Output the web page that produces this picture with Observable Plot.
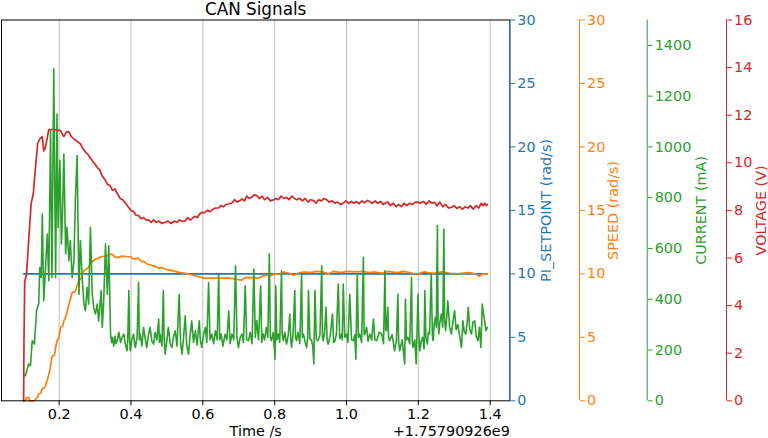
<!DOCTYPE html>
<html><head><meta charset="utf-8">
<script src="https://cdn.jsdelivr.net/npm/d3@7"></script>
<script src="https://cdn.jsdelivr.net/npm/@observablehq/plot@0.6"></script>
<style>html,body{margin:0;padding:0;background:#fff;}</style>
</head><body><div id="chart"></div>
<script>
// ---- data (time in s, relative to offset +1.75790926e9) ----
const setT = [0.101, 1.392];
const setV = [10, 10];

const spdT = [0.101,0.105,0.109,0.115,0.118,0.130,0.134,0.140,0.143,0.148,0.153,0.158,0.162,0.168,0.174,0.177,0.180,0.187,0.190,0.194,0.199,0.204,0.210,0.213,0.218,0.222,0.227,0.231,0.236,0.245,0.250,0.255,0.262,0.269,0.278,0.287,0.294,0.301,0.308,0.315,0.330,0.343,0.350,0.356,0.362,0.375,0.390,0.399,0.405,0.412,0.420,0.428,0.437,0.444,0.455,0.467,0.478,0.486,0.495,0.505,0.515,0.523,0.537,0.551,0.565,0.579,0.590,0.602,0.640,0.672,0.690,0.699,0.708,0.718,0.735,0.750,0.760,0.768,0.775,0.790,0.800,0.815,0.825,0.840,0.853,0.865,0.880,0.900,0.915,0.935,0.950,0.965,0.985,1.000,1.020,1.045,1.065,1.080,1.100,1.115,1.140,1.160,1.185,1.200,1.215,1.240,1.265,1.290,1.310,1.340,1.360,1.370,1.378,1.392];
const spdV = [0,0,0.26,0.26,0,0,0.1,0.3,0.53,0.6,0.94,1.0,1.18,1.73,2.36,2.9,3.5,3.6,4.2,4.7,5.0,5.8,5.9,6.3,6.57,7.0,7.6,8.0,8.54,8.6,9.1,9.46,9.7,10.25,10.4,10.78,11.0,11.17,11.2,11.35,11.4,11.56,11.5,11.3,11.3,11.4,11.35,11.35,11.2,11.17,11.25,11.0,10.95,10.78,10.7,10.59,10.45,10.5,10.38,10.3,10.25,10.2,10.1,10.04,9.95,9.86,9.75,9.67,9.67,9.67,9.6,9.54,9.5,9.72,9.7,9.67,9.7,9.86,9.9,9.85,10.0,9.95,10.15,10.05,9.9,10.05,10.15,10.1,10.2,10.15,10.0,10.2,10.1,10.2,10.15,10.2,10.1,10.15,10.05,10.2,10.1,10.2,10.05,10.0,10.15,10.05,10.15,10.05,10.0,10.1,10.0,9.8,10.0,10.0];

// current samples: [time s, mA]
const current = [
[0.101,99],[0.106,100],[0.115,145],[0.120,138],[0.125,237],[0.131,223],[0.137,355],[0.143,382],[0.146,525],[0.150,486],
[0.153,736],[0.157,394],[0.162,525],[0.167,657],[0.171,473],[0.176,1064],[0.180,486],[0.185,1308],[0.190,486],[0.194,1130],
[0.197,683],[0.202,946],[0.206,618],[0.209,722],[0.213,972],[0.218,579],[0.222,683],[0.227,552],[0.231,631],[0.236,486],
[0.241,552],[0.245,788],[0.250,966],[0.255,420],[0.259,631],[0.264,486],[0.269,381],[0.273,355],[0.278,447],[0.282,381],
[0.287,683],[0.292,420],[0.296,368],[0.301,342],[0.306,381],[0.310,315],[0.317,434],[0.320,289],[0.324,394],[0.329,618],
[0.334,420],[0.338,611],[0.343,263],[0.346,230],[0.348,250],[0.352,215],[0.355,255],[0.358,225],[0.362,240],[0.366,270],
[0.371,230],[0.375,250],[0.380,263],[0.384,225],[0.389,197],[0.391,250],[0.394,434],[0.396,240],[0.398,197],[0.402,240],
[0.407,263],[0.410,225],[0.412,210],[0.417,250],[0.421,466],[0.423,240],[0.426,263],[0.430,215],[0.435,289],[0.440,240],
[0.444,210],[0.448,255],[0.453,289],[0.458,235],[0.463,223],[0.467,270],[0.472,240],[0.477,322],[0.479,230],[0.481,263],
[0.486,215],[0.490,434],[0.492,250],[0.495,184],[0.500,240],[0.504,289],[0.509,225],[0.514,210],[0.518,250],[0.523,276],
[0.528,215],[0.534,420],[0.538,230],[0.542,184],[0.546,245],[0.551,335],[0.555,220],[0.560,184],[0.564,250],[0.569,315],
[0.574,230],[0.579,276],[0.584,220],[0.590,315],[0.593,240],[0.597,210],[0.602,260],[0.607,289],[0.611,230],[0.616,466],
[0.620,240],[0.625,263],[0.630,225],[0.635,276],[0.640,240],[0.644,499],[0.647,240],[0.651,263],[0.656,215],[0.662,263],
[0.667,240],[0.672,355],[0.676,225],[0.681,263],[0.686,240],[0.691,532],[0.695,250],[0.699,210],[0.704,250],[0.709,263],
[0.713,230],[0.718,453],[0.722,240],[0.727,237],[0.732,270],[0.737,225],[0.742,519],[0.746,250],[0.750,316],[0.755,240],
[0.761,453],[0.764,230],[0.768,263],[0.772,240],[0.777,289],[0.781,250],[0.785,578],[0.788,250],[0.791,237],[0.796,270],
[0.801,164],[0.803,453],[0.806,240],[0.810,263],[0.814,230],[0.819,512],[0.821,260],[0.824,237],[0.828,270],[0.833,223],
[0.838,260],[0.842,342],[0.845,240],[0.847,210],[0.851,260],[0.856,434],[0.858,250],[0.861,237],[0.865,270],[0.870,225],
[0.875,499],[0.877,250],[0.880,263],[0.885,230],[0.889,210],[0.892,250],[0.894,434],[0.898,245],[0.903,237],[0.906,215],
[0.909,145],[0.912,434],[0.916,240],[0.921,237],[0.926,260],[0.931,532],[0.933,250],[0.935,237],[0.939,270],[0.943,368],
[0.946,240],[0.949,223],[0.955,260],[0.961,342],[0.964,230],[0.968,237],[0.972,265],[0.977,460],[0.981,245],[0.986,263],
[0.988,240],[0.991,460],[0.995,250],[1.000,263],[1.004,230],[1.009,420],[1.014,240],[1.019,237],[1.023,260],[1.026,164],
[1.030,499],[1.033,250],[1.037,263],[1.042,230],[1.047,565],[1.049,260],[1.051,263],[1.056,289],[1.060,235],[1.065,263],
[1.070,240],[1.075,322],[1.079,240],[1.084,237],[1.091,270],[1.098,263],[1.103,225],[1.107,512],[1.109,280],[1.111,276],
[1.115,368],[1.117,250],[1.120,237],[1.127,260],[1.134,197],[1.139,240],[1.143,420],[1.145,235],[1.148,197],[1.155,240],
[1.162,145],[1.164,401],[1.167,240],[1.171,250],[1.176,225],[1.181,486],[1.183,240],[1.185,210],[1.190,240],[1.194,145],
[1.199,420],[1.202,230],[1.204,197],[1.208,237],[1.212,250],[1.216,204],[1.218,434],[1.221,250],[1.225,223],[1.228,270],
[1.231,263],[1.236,499],[1.239,260],[1.241,237],[1.244,300],[1.247,329],[1.250,290],[1.253,690],[1.255,310],[1.257,263],
[1.260,310],[1.264,342],[1.268,290],[1.271,677],[1.273,320],[1.276,276],[1.279,330],[1.282,394],[1.287,290],[1.292,263],
[1.297,320],[1.301,355],[1.305,280],[1.310,300],[1.315,255],[1.320,210],[1.324,315],[1.328,270],[1.332,263],[1.336,310],
[1.339,368],[1.343,280],[1.348,263],[1.352,310],[1.357,315],[1.361,255],[1.366,237],[1.370,290],[1.374,210],[1.378,381],
[1.383,329],[1.386,300],[1.388,276],[1.392,289]
];

const volT = [0.101,0.102,0.104,0.109,0.115,0.122,0.128,0.134,0.140,0.146,0.153,0.157,0.161,0.165,0.171,0.185,0.204,0.209,0.213,0.220,0.227,0.234,0.241,0.250,0.259,0.266,0.273,0.280,0.287,0.294,0.300,0.306,0.313,0.320,0.327,0.334,0.341,0.348,0.355,0.362,0.370,0.377,0.385,0.393,0.400,0.407,0.414,0.421,0.428,0.435,0.442,0.449,0.456,0.463,0.470,0.478,0.486,0.495,0.503,0.512,0.520,0.528,0.535,0.542,0.550,0.558,0.564,0.569,0.577,0.585,0.591,0.597,0.604,0.612,0.620,0.628,0.635,0.643,0.650,0.657,0.665,0.672,0.680,0.688,0.695,0.702,0.709,0.716,0.722,0.729,0.736,0.743,0.750,0.757,0.765,0.772,0.780,0.788,0.796,0.803,0.810,0.818,0.825,0.833,0.840,0.848,0.855,0.862,0.870,0.877,0.885,0.893,0.900,0.908,0.915,0.922,0.930,0.938,0.945,0.952,0.960,0.968,0.975,0.983,0.991,0.998,1.006,1.013,1.020,1.028,1.035,1.043,1.050,1.058,1.065,1.072,1.080,1.087,1.095,1.102,1.107,1.115,1.122,1.130,1.138,1.145,1.153,1.160,1.168,1.176,1.184,1.192,1.199,1.206,1.214,1.222,1.230,1.238,1.245,1.252,1.260,1.268,1.276,1.284,1.292,1.300,1.307,1.315,1.323,1.330,1.338,1.345,1.353,1.360,1.368,1.375,1.380,1.385,1.389,1.392];
const volV = [0,2.5,5.0,5.3,6.7,8.3,8.7,9.8,10.8,11.0,11.1,10.5,10.6,10.9,11.4,11.4,11.35,11.2,11.1,11.3,11.3,11.1,11.0,10.9,10.8,10.6,10.45,10.35,10.2,10.05,9.95,9.8,9.7,9.45,9.3,9.1,9.05,8.85,8.9,8.7,8.5,8.45,8.3,8.13,8.0,7.95,7.8,7.78,7.65,7.7,7.6,7.6,7.5,7.6,7.5,7.55,7.45,7.5,7.55,7.45,7.55,7.5,7.6,7.54,7.55,7.7,7.6,7.64,7.75,7.7,7.85,7.92,7.9,8.0,7.95,8.05,8.1,8.1,8.2,8.15,8.25,8.27,8.3,8.45,8.35,8.4,8.48,8.4,8.6,8.5,8.55,8.65,8.62,8.5,8.6,8.45,8.55,8.4,8.44,8.5,8.45,8.6,8.5,8.55,8.45,8.6,8.5,8.45,8.51,8.4,8.5,8.35,8.45,8.41,8.3,8.45,8.4,8.5,8.44,8.35,8.4,8.3,8.35,8.25,8.31,8.4,8.3,8.38,8.3,8.37,8.28,8.4,8.32,8.42,8.37,8.3,8.4,8.3,8.38,8.25,8.3,8.35,8.2,8.3,8.15,8.25,8.16,8.3,8.2,8.3,8.25,8.35,8.34,8.3,8.38,8.25,8.4,8.3,8.34,8.2,8.35,8.15,8.25,8.1,8.13,8.2,8.08,8.15,8.05,8.15,8.1,8.2,8.05,8.2,8.1,8.3,8.2,8.3,8.2,8.25];

// ---- ticks & labels ----
const xTicks = [0.2, 0.4, 0.6, 0.8, 1.0, 1.2, 1.4];
const setTicks = [0, 5, 10, 15, 20, 25, 30];
const spdTicks = [0, 5, 10, 15, 20, 25, 30];
const curTicks = [0, 200, 400, 600, 800, 1000, 1200, 1400];
const volTicks = [0, 2, 4, 6, 8, 10, 12, 14, 16];
const title = "CAN Signals";
const xLabel = "Time /s";
const xOffsetText = "+1.75790926e9";
const yLabels = ["PI_SETPOINT (rad/s)", "SPEED (rad/s)", "CURRENT (mA)", "VOLTAGE (V)"];

// ---- styles ----
const C = {blue: "#1f77b4", orange: "#ff7f0e", green: "#2ca02c", red: "#d62728"};
const xDomain = [0.0394, 1.4546];
const curMax = 1500, volMax = 16, yMax = 30;
const curK = yMax / curMax, volK = yMax / volMax;
const fs = 14.4;

const rows = (T, V) => T.map((t, i) => ({t, v: V[i]}));
const curRows = current.map(([t, v]) => ({t, v}));

const axisCommon = {anchor: "right", tickSize: 5, tickPadding: 2.5, label: null, fontSize: fs, strokeWidth: 1};

const chart = Plot.plot({
  width: 768, height: 438,
  marginLeft: 1, marginRight: 258.7, marginTop: 19.5, marginBottom: 37.7,
  style: {fontFamily: "DejaVu Sans", fontSize: fs + "px", background: "white", color: "black"},
  x: {domain: xDomain},
  y: {domain: [0, yMax]},
  marks: [
    Plot.gridX(xTicks, {stroke: "#b0b0b0", strokeOpacity: 1, strokeWidth: 0.8}),
    Plot.line(rows(setT, setV), {x: "t", y: "v", stroke: C.blue, strokeWidth: 1.7}),
    Plot.line(rows(spdT, spdV), {x: "t", y: "v", stroke: C.orange, strokeWidth: 1.7}),
    Plot.line(curRows, {x: "t", y: d => d.v * curK, stroke: C.green, strokeWidth: 1.6}),
    Plot.line(rows(volT, volV), {x: "t", y: d => d.v * volK, stroke: C.red, strokeWidth: 1.7}),
    Plot.frame({stroke: "black", strokeWidth: 1}),
    Plot.ruleX([xDomain[1]], {stroke: C.blue, strokeWidth: 1}),
    Plot.ruleX([xDomain[1]], {stroke: C.orange, strokeWidth: 1, dx: 69.7}),
    Plot.ruleX([xDomain[1]], {stroke: C.green, strokeWidth: 1, dx: 137.4}),
    Plot.ruleX([xDomain[1]], {stroke: C.red, strokeWidth: 1, dx: 216.7}),
    Plot.axisX({ticks: xTicks, tickFormat: d => d.toFixed(1), tickSize: 5, tickPadding: 3, label: null, fontSize: fs, color: "black"}),
    Plot.axisY({...axisCommon, ticks: setTicks, tickFormat: d => String(d), color: C.blue}),
    Plot.axisY({...axisCommon, ticks: spdTicks, tickFormat: d => String(d), color: C.orange, dx: 69.7}),
    Plot.axisY({...axisCommon, ticks: curTicks.map(c => c * curK), tickFormat: d => String(Math.round(d / curK)), color: C.green, dx: 137.4}),
    Plot.axisY({...axisCommon, ticks: volTicks.map(v => v * volK), tickFormat: d => String(Math.round(d / volK)), color: C.red, dx: 216.7}),
    Plot.text([yLabels[0]], {frameAnchor: "right", dx: 36.2, rotate: -90, fill: C.blue, fontSize: fs, textAnchor: "middle", lineAnchor: "middle"}),
    Plot.text([yLabels[1]], {frameAnchor: "right", dx: 104, rotate: -90, fill: C.orange, fontSize: fs, textAnchor: "middle", lineAnchor: "middle"}),
    Plot.text([yLabels[2]], {frameAnchor: "right", dx: 191.7, rotate: -90, fill: C.green, fontSize: fs, textAnchor: "middle", lineAnchor: "middle"}),
    Plot.text([yLabels[3]], {frameAnchor: "right", dx: 251.7, rotate: -90, fill: C.red, fontSize: fs, textAnchor: "middle", lineAnchor: "middle"}),
    Plot.text([title], {frameAnchor: "top", dy: -5.5, lineAnchor: "bottom", textAnchor: "middle", fontSize: 16.8, fill: "black"}),
    Plot.text([xLabel], {frameAnchor: "bottom", dy: 35.5, lineAnchor: "bottom", textAnchor: "middle", fontSize: fs, fill: "black"}),
    Plot.text([xOffsetText], {frameAnchor: "bottom-right", dy: 35.5, lineAnchor: "bottom", textAnchor: "end", fontSize: fs, fill: "black"})
  ]
});
document.getElementById("chart").appendChild(chart);
</script>
</body></html>
